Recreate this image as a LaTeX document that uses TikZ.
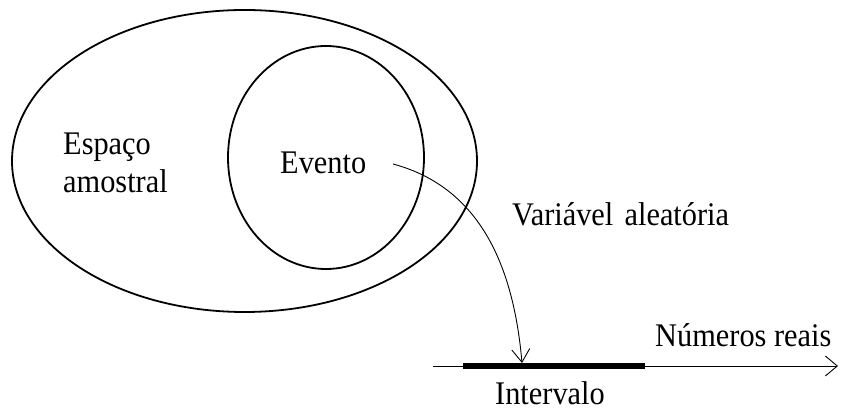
\documentclass[tikz,border=0pt]{standalone}
\usepackage{fontspec}
\setmainfont{Liberation Serif}
\usetikzlibrary{shapes.geometric,arrows.meta}
\newcommand{\narrowtxt}[1]{\scalebox{0.92}[1]{#1}}
\begin{document}
\begin{tikzpicture}[x=1pt,y=1pt,
  lbl/.style={anchor=base west,inner sep=0pt,font=\fontsize{33}{39}\selectfont},
  setshape/.style={draw,ellipse,line width=1.8pt,inner sep=0pt},
  thinarrow/.style={line width=0.9pt,-{Straight Barb[length=13pt,width=18pt,line width=0.9pt]}}]
\useasboundingbox (0,0) rectangle (842,411);
% ellipses
\node[setshape,minimum width=465pt,minimum height=302pt] (space) at (244.5,250) {};
\node[setshape,minimum width=196pt,minimum height=223pt] (event) at (326,253.5) {};
% labels
\node[lbl] (esp) at (63,256) {\narrowtxt{Espaço}};
\node[lbl] (amo) at (63,218) {\narrowtxt{amostral}};
\node[lbl] (evt) at (280,237) {\narrowtxt{Evento}};
\node[lbl] (var) at (512,185) {\narrowtxt{Variável\hspace{0.12em} aleatória}};
\node[lbl] (num) at (655,64) {\narrowtxt{Números reais}};
\node[lbl] (int) at (495,6) {\narrowtxt{Intervalo}};
% number line
\coordinate (lstart) at (433,45);
\coordinate (lend) at (838,45);
\coordinate (ia) at (463,45);
\coordinate (ib) at (645,45);
\draw[thinarrow,-{Straight Barb[length=12pt,width=20pt,line width=0.9pt]}] (lstart) -- (lend);
\draw[line width=6pt] (ia) -- (ib);
% random variable arrow
\coordinate (rvs) at (393,247);
\coordinate (rve) at (522,48);
\draw[thinarrow] (rvs) to[out=-15,in=95] (rve);
\end{tikzpicture}
\end{document}
